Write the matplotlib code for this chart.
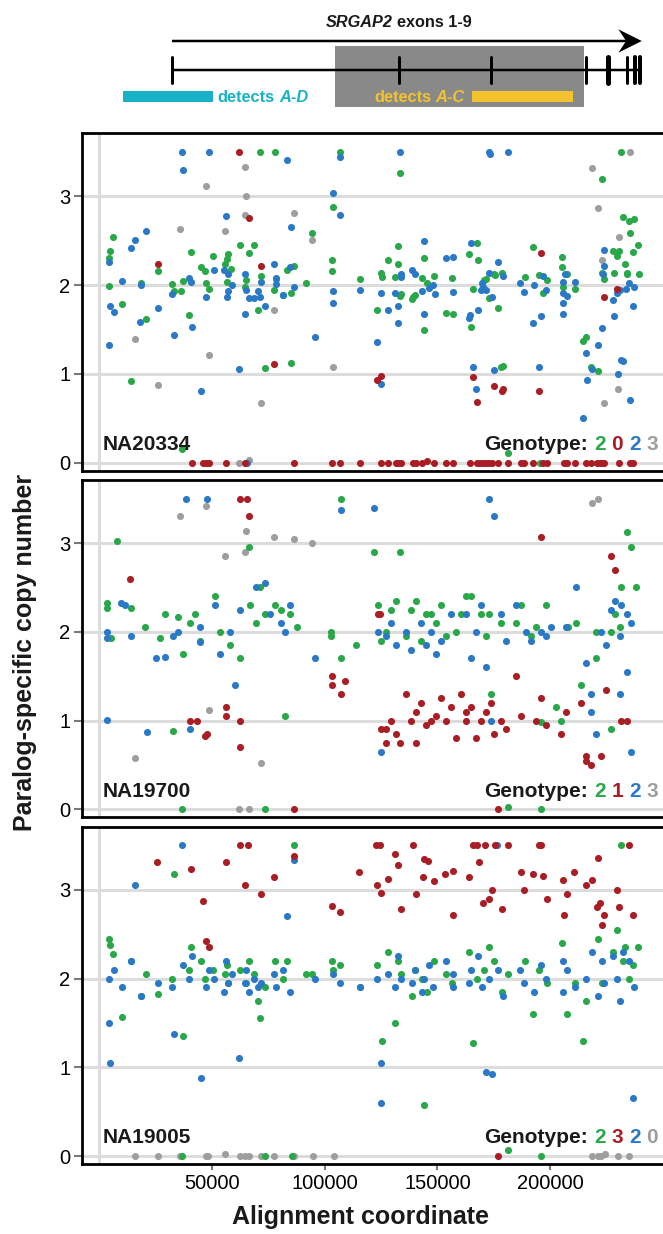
import matplotlib.pyplot as plt
from matplotlib.patches import Rectangle, Polygon
from matplotlib.transforms import ScaledTranslation

plt.rcParams['font.family'] = ['Liberation Sans', 'DejaVu Sans']

GREEN = '#29a84a'
RED = '#a81e24'
BLUE = '#2a79c6'
GRAY = '#9e9e9e'

# ---- data: (alignment coordinate in thousands, copy number) ----
na20334_green = [
    (71.4, 3.5), (78.1, 3.5), (6.2, 2.54), (94.5, 2.59), (4.7, 2.38), (4.3, 2.31), (25.9, 2.16),
    (40.7, 2.37), (62.2, 2.45), (68.8, 2.45), (66.4, 2.36), (57.1, 2.35), (50.6, 2.33), (45.0, 2.20),
    (46.8, 2.16), (56.5, 2.29), (55.8, 2.24), (58.6, 2.18), (83.1, 2.17), (86.5, 2.22), (64.9, 2.06),
    (71.7, 2.10), (78.5, 2.07), (37.1, 2.05), (4.3, 1.99), (18.5, 2.02), (32.2, 2.01), (33.3, 1.93),
    (36.1, 1.93), (47.3, 2.02), (48.7, 1.96), (56.5, 2.04), (64.8, 1.98), (77.5, 1.94), (81.4, 1.89),
    (84.9, 1.91), (91.7, 2.02), (10.1, 1.79), (70.3, 1.72), (39.7, 1.66), (20.6, 1.62), (73.5, 1.07),
    (85.2, 1.12), (14.1, 0.92), (36.6, 0.16),
    (106.9, 3.5), (133.3, 3.26), (231.5, 3.5), (223.0, 3.20), (103.7, 2.88), (232.5, 2.77),
    (235.0, 2.72), (237.4, 2.75), (235.2, 2.59), (239.0, 2.45), (167.4, 2.48), (132.7, 2.44),
    (192.4, 2.43), (227.8, 2.39), (230.5, 2.38), (229.8, 2.33), (236.9, 2.37), (143.9, 2.31),
    (164.0, 2.35), (168.0, 2.28), (128.0, 2.28), (103.4, 2.28), (132.4, 2.24), (205.3, 2.32),
    (233.4, 2.24), (205.3, 2.20), (207.4, 2.13), (103.4, 2.16), (124.9, 2.14), (125.2, 2.09),
    (131.2, 2.09), (178.7, 2.14), (174.9, 2.12), (175.4, 2.11), (115.5, 2.07), (143.2, 2.08),
    (145.4, 2.02), (148.5, 2.10), (156.6, 2.08), (189.0, 2.09), (195.1, 2.11), (198.5, 2.06),
    (205.9, 1.98), (210.8, 1.96), (223.0, 2.14), (223.9, 2.07), (228.5, 2.14), (234.3, 2.14),
    (233.9, 2.12), (239.3, 2.13), (171.6, 2.07), (170.7, 2.06), (165.7, 1.96), (196.7, 1.91),
    (133.9, 1.90), (133.6, 1.88), (139.9, 1.89), (139.2, 1.87), (138.8, 1.84), (172.8, 1.86),
    (123.2, 1.72), (176.8, 1.74), (153.7, 1.69), (156.9, 1.68), (164.8, 1.53), (144.0, 1.50),
    (214.6, 1.37), (216.1, 1.42), (178.4, 1.08), (178.9, 1.09), (218.2, 1.08), (221.3, 1.03),
    (181.2, 0.11), (195.5, 0.0),
]
na20334_blue = [
    (36.6, 3.5), (48.7, 3.5), (37.3, 3.30), (83.1, 3.41), (56.2, 2.78), (85.2, 2.65), (20.6, 2.61),
    (15.8, 2.51), (14.1, 2.42), (4.2, 2.26), (50.8, 2.17), (55.5, 2.17), (57.0, 2.13), (77.5, 2.24),
    (84.6, 2.20), (64.6, 2.12), (71.7, 2.04), (78.5, 2.08), (78.5, 2.01), (39.7, 2.08), (40.9, 2.03),
    (10.1, 2.05), (18.5, 2.00), (32.3, 1.90), (47.3, 1.87), (58.7, 2.00), (57.2, 1.93), (56.5, 1.87),
    (65.1, 1.94), (66.3, 1.85), (68.8, 1.86), (71.3, 1.87), (70.6, 1.93), (81.4, 1.89), (86.4, 1.98),
    (4.7, 1.76), (6.4, 1.70), (25.9, 1.74), (73.5, 1.77), (64.8, 1.68), (18.2, 1.59), (41.0, 1.53),
    (33.2, 1.44), (95.8, 1.42), (4.3, 1.33), (62.1, 1.05), (44.9, 0.81), (65.4, 0.0),
    (106.9, 3.44), (133.3, 3.5), (173.0, 3.5), (173.2, 3.48), (181.2, 3.5), (103.8, 3.04),
    (106.9, 2.79), (144.2, 2.50), (164.8, 2.47), (223.9, 2.40), (153.7, 2.31), (157.1, 2.32),
    (176.8, 2.26), (224.0, 2.21), (103.5, 1.93), (103.5, 1.80), (138.8, 2.17), (140.1, 2.12),
    (133.9, 2.12), (133.9, 2.09), (178.9, 2.10), (172.8, 2.14), (148.1, 2.00), (146.1, 1.97),
    (196.7, 2.10), (206.5, 2.12), (205.9, 2.04), (205.9, 1.91), (207.4, 1.88), (210.9, 2.04),
    (223.6, 2.12), (169.7, 2.02), (170.0, 1.98), (169.3, 1.94), (171.4, 1.94), (186.7, 2.02),
    (188.6, 1.92), (192.7, 2.00), (198.2, 1.94), (234.9, 2.02), (237.1, 1.98), (233.7, 1.96),
    (230.8, 1.94), (229.8, 1.91), (115.5, 1.94), (125.0, 1.91), (131.0, 1.91), (143.0, 1.93),
    (148.7, 1.90), (156.8, 1.92), (174.0, 1.87), (227.8, 1.83), (205.6, 1.80), (236.9, 1.77),
    (128.0, 1.72), (132.4, 1.76), (168.0, 1.72), (143.9, 1.68), (164.5, 1.66), (164.2, 1.63),
    (195.8, 1.65), (205.7, 1.68), (228.5, 1.65), (132.5, 1.57), (192.4, 1.57), (223.0, 1.52),
    (123.2, 1.36), (215.7, 1.23), (221.3, 1.33), (231.5, 1.16), (232.5, 1.14), (165.7, 1.08),
    (175.0, 1.04), (195.1, 1.08), (218.6, 1.05), (124.9, 0.89), (216.3, 0.93), (230.1, 1.00),
    (167.3, 0.83), (235.2, 0.71), (214.6, 0.50),
]
na20334_red = [
    (62.1, 3.5), (66.4, 2.76), (25.9, 2.24), (71.7, 2.21), (77.6, 1.11),
    (41.0, 0), (46.2, 0), (47.3, 0), (48.5, 0), (56.0, 0), (64.8, 0), (86.4, 0),
    (195.8, 2.36), (229.8, 1.96), (223.9, 1.87), (123.2, 0.93), (124.9, 0.98), (165.7, 0.96),
    (175.0, 0.86), (178.7, 0.81), (178.9, 0.83), (195.1, 0.81), (167.4, 0.68),
    (103.4, 0), (106.9, 0), (115.5, 0), (124.9, 0), (128.0, 0), (131.6, 0), (132.7, 0), (133.7, 0),
    (139.1, 0), (140.4, 0), (143.2, 0), (145.5, 0.02), (148.5, 0), (153.7, 0), (157.1, 0),
    (164.5, 0), (167.6, 0), (168.9, 0), (170.3, 0), (171.4, 0), (172.8, 0), (174.0, 0), (176.8, 0),
    (181.2, 0), (187.0, 0), (188.6, 0), (192.4, 0), (196.7, 0), (198.5, 0), (206.3, 0), (207.4, 0),
    (210.9, 0), (215.8, 0), (218.2, 0), (220.7, 0), (221.9, 0), (223.0, 0), (223.9, 0), (230.5, 0),
    (235.2, 0), (236.9, 0),
]
na20334_gray = [
    (64.6, 3.33), (47.3, 3.12), (65.1, 3.00), (64.6, 2.79), (86.3, 2.81), (35.9, 2.63), (55.8, 2.61),
    (94.5, 2.51), (77.5, 1.72), (15.8, 1.39), (48.7, 1.21), (25.9, 0.87), (71.7, 0.67), (62.1, 0.0),
    (66.3, 0.03), (235.2, 3.5), (218.6, 3.32), (221.1, 2.87), (230.5, 2.54), (223.0, 2.28),
    (103.7, 1.08), (230.0, 0.83), (223.9, 0.67),
]

na19700_green = [
    (3.5, 2.32), (3.5, 2.27), (5.3, 1.93), (7.9, 3.02), (14.2, 2.27), (20.4, 2.05), (27.1, 1.93),
    (29.3, 2.2), (32.8, 0.88), (35.1, 2.17), (37.3, 1.75), (40.4, 2.1), (42.6, 2.2), (44.8, 1.9),
    (51.5, 2.4), (53.7, 2.0), (58.2, 1.85), (62.6, 1.7), (66.6, 2.95), (67.0, 2.3), (69.3, 2.1),
    (71.5, 2.5), (73.7, 2.2), (78.1, 2.3), (80.4, 2.25), (82.6, 1.05), (84.8, 2.2), (87.9, 2.05),
    (102.6, 2.0), (102.6, 1.95), (107.0, 3.5), (107.0, 1.7), (113.7, 1.85), (121.7, 2.9),
    (123.5, 2.3), (124.8, 1.9), (127.0, 2.0), (129.2, 2.25), (131.4, 2.35), (133.6, 2.9),
    (135.9, 1.95), (138.1, 2.25), (140.3, 2.35), (142.5, 1.9), (144.8, 2.2), (147.0, 2.2),
    (149.2, 2.1), (151.4, 2.3), (153.6, 1.95), (158.1, 2.0), (160.3, 2.2), (162.5, 2.4),
    (164.7, 2.4), (169.2, 2.2), (171.4, 1.95), (172.7, 2.2), (173.6, 1.3), (178.0, 2.1),
    (184.7, 2.1), (186.9, 2.3), (191.4, 1.95), (193.6, 2.05), (195.8, 0.98), (198.0, 2.3),
    (202.4, 1.15), (204.7, 1.0), (207.8, 2.05), (211.3, 2.1), (213.6, 1.4), (220.2, 1.7),
    (220.2, 2.0), (226.9, 2.0), (226.9, 0.9), (228.6, 2.2), (230.9, 2.05), (231.3, 2.5),
    (234.0, 3.12), (235.8, 2.95), (238.0, 2.5),
    (36.8, 0), (73.6, 0), (181.5, 0.03), (196.1, 0),
]
na19700_blue = [
    (3.5, 2.0), (3.5, 1.93), (3.5, 1.01), (9.8, 2.32), (11.5, 2.3), (14.2, 1.95), (21.3, 0.87),
    (25.3, 1.7), (29.3, 1.72), (32.8, 1.95), (35.1, 2.0), (38.6, 3.5), (40.4, 0.9), (44.8, 2.05),
    (44.8, 1.88), (48.0, 3.5), (51.5, 2.3), (53.7, 1.75), (58.2, 2.0), (60.4, 1.4), (62.6, 2.25),
    (69.3, 2.5), (73.7, 2.55), (75.9, 2.2), (80.4, 2.1), (82.6, 2.0), (84.8, 2.3), (95.9, 1.7),
    (107.0, 3.37), (121.7, 3.4), (123.5, 2.0), (124.8, 0.65), (127.0, 1.95), (129.2, 2.1),
    (131.4, 1.85), (135.9, 2.0), (138.1, 1.8), (142.5, 2.1), (144.8, 1.85), (147.0, 2.0),
    (149.2, 1.75), (151.4, 1.9), (155.8, 2.2), (162.5, 2.2), (164.7, 1.7), (166.9, 2.0),
    (169.2, 2.3), (171.4, 1.6), (172.7, 3.5), (173.6, 1.0), (175.0, 3.3), (178.0, 2.2),
    (180.3, 1.9), (184.7, 2.3), (189.1, 2.0), (191.4, 1.9), (195.8, 2.0), (198.0, 1.95),
    (200.2, 2.05), (206.9, 2.05), (211.3, 2.5), (215.8, 1.65), (218.0, 1.1), (218.0, 1.3),
    (220.2, 0.85), (222.4, 2.0), (224.7, 1.85), (226.9, 2.25), (228.6, 2.35), (230.9, 1.95),
    (230.9, 1.3), (231.3, 2.3), (234.0, 2.2), (234.0, 1.55), (235.8, 2.1), (235.8, 0.65),
]
na19700_red = [
    (13.8, 2.59), (40.4, 1.0), (43.5, 1.0), (47.9, 0.85), (47.0, 0.83), (56.0, 1.15), (56.0, 1.05),
    (62.6, 3.5), (62.6, 1.0), (62.6, 0.7), (65.7, 3.5), (66.5, 3.3), (103.4, 1.5), (103.4, 1.4),
    (107.0, 1.3), (108.8, 1.45), (123.5, 2.2), (124.4, 2.2), (124.8, 0.9), (127.0, 0.9),
    (127.0, 0.75), (129.2, 1.0), (131.4, 0.85), (133.6, 0.75), (135.9, 1.3), (138.1, 1.0),
    (140.3, 0.75), (140.3, 1.1), (142.5, 1.2), (144.8, 0.95), (147.0, 1.0), (149.2, 1.05),
    (151.4, 1.25), (153.6, 1.0), (155.8, 1.15), (158.1, 0.8), (160.3, 1.3), (162.5, 1.1),
    (162.5, 1.0), (164.7, 1.15), (166.9, 0.8), (169.2, 1.0), (171.4, 1.1), (173.6, 1.2),
    (175.0, 0.85), (178.0, 1.0), (180.3, 0.9), (184.7, 1.5), (186.9, 1.05), (193.6, 1.0),
    (195.8, 1.25), (196.0, 3.07), (198.0, 0.95), (204.7, 0.85), (206.9, 1.1), (213.6, 1.2),
    (215.8, 0.6), (215.8, 0.55), (218.0, 0.5), (222.4, 0.6), (224.7, 1.35), (226.9, 2.85),
    (228.6, 2.7), (231.3, 1.0), (234.0, 1.0), (86.5, 0), (177.0, 0),
]
na19700_gray = [
    (15.8, 0.58), (35.9, 3.3), (47.3, 3.42), (48.7, 1.12), (55.8, 2.85), (62.1, 0), (64.6, 2.9),
    (65.1, 3.13), (66.3, 0), (71.7, 0.52), (77.5, 3.07), (86.3, 3.05), (94.5, 3.0),
    (218.6, 3.45), (221.1, 3.5),
]

na19005_green = [
    (4.3, 2.45), (4.7, 2.38), (6.2, 2.28), (10.1, 1.57), (14.1, 2.2), (18.5, 1.8), (20.6, 2.05),
    (25.9, 1.83), (32.3, 2.0), (33.1, 3.18), (37.1, 1.35), (39.7, 2.1), (40.7, 2.35), (45.0, 2.2),
    (46.8, 2.0), (50.6, 2.1), (55.8, 2.05), (56.5, 2.15), (57.1, 1.95), (62.2, 2.1), (64.9, 1.95),
    (66.4, 2.2), (68.8, 2.05), (70.3, 1.75), (71.4, 1.55), (73.5, 1.9), (78.1, 2.2), (81.4, 2.0),
    (83.1, 2.2), (86.3, 3.5), (91.7, 2.05), (94.5, 2.05), (103.4, 2.2), (103.7, 2.1), (106.9, 2.15),
    (115.5, 1.9), (123.2, 2.15), (125.2, 1.3), (128.0, 2.3), (131.2, 1.5), (132.7, 2.2),
    (133.9, 2.05), (138.8, 1.8), (139.9, 2.1), (143.2, 2.0), (144.0, 0.57), (145.4, 1.85),
    (148.5, 2.2), (153.7, 2.05), (156.6, 1.95), (164.0, 2.3), (165.7, 1.27), (167.4, 2.0),
    (170.7, 2.1), (172.8, 2.35), (174.9, 2.2), (178.7, 1.85), (181.2, 2.05), (189.0, 2.2),
    (192.4, 1.6), (195.1, 2.1), (198.5, 1.95), (205.3, 2.4), (207.4, 1.6), (210.8, 1.95),
    (214.6, 1.3), (216.1, 1.75), (221.3, 2.45), (223.0, 1.95), (227.8, 2.3), (229.8, 2.55),
    (231.3, 3.5), (232.5, 2.2), (233.4, 2.35), (235.0, 2.0), (236.9, 2.15), (239.0, 2.35),
    (36.6, 0), (73.6, 0), (85.4, 0), (181.5, 0.07), (195.9, 0),
]
na19005_blue = [
    (4.2, 2.0), (4.3, 1.5), (4.7, 1.05), (6.4, 2.1), (10.1, 1.9), (14.1, 2.2), (15.8, 3.05),
    (18.5, 1.8), (25.9, 1.95), (32.3, 1.9), (33.2, 1.38), (36.7, 3.5), (37.3, 2.15), (39.7, 2.0),
    (41.0, 2.25), (44.9, 0.88), (47.3, 1.9), (48.7, 2.1), (50.8, 2.0), (55.5, 1.85), (56.2, 2.2),
    (57.2, 1.95), (58.7, 2.05), (62.1, 1.1), (64.6, 1.95), (65.1, 2.1), (66.3, 1.85), (68.8, 2.0),
    (70.6, 1.9), (71.7, 1.95), (77.5, 2.05), (78.5, 1.9), (81.4, 2.1), (83.1, 2.7), (84.6, 1.85),
    (86.3, 3.34), (95.8, 2.0), (103.5, 2.05), (106.9, 1.95), (115.5, 1.9), (123.2, 2.0),
    (124.9, 0.6), (125.0, 1.05), (128.0, 2.05), (131.0, 1.9), (132.4, 2.25), (133.9, 2.0),
    (138.8, 1.95), (140.1, 2.1), (143.0, 1.85), (144.2, 2.0), (146.1, 2.15), (148.1, 1.9),
    (153.7, 2.2), (156.8, 1.9), (157.1, 2.05), (164.2, 1.95), (164.8, 2.1), (168.0, 2.25),
    (169.7, 1.9), (171.4, 0.95), (172.8, 2.0), (174.0, 0.92), (176.6, 3.5), (176.8, 2.1),
    (178.9, 1.8), (186.7, 2.1), (188.6, 1.95), (192.7, 1.85), (195.8, 2.15), (198.2, 2.0),
    (205.6, 1.85), (205.9, 2.2), (207.4, 2.1), (210.9, 1.9), (215.7, 2.0), (218.6, 2.3),
    (221.3, 1.8), (223.0, 2.2), (224.0, 1.95), (227.8, 2.25), (229.8, 2.0), (230.8, 1.75),
    (232.5, 2.3), (234.9, 2.2), (236.9, 0.65), (237.1, 1.9),
]
na19005_red = [
    (25.8, 3.31), (40.9, 3.23), (56.1, 3.31), (62.3, 3.5), (66.1, 3.5), (77.5, 3.14), (115.4, 3.2),
    (122.9, 3.5), (124.4, 3.5), (128.0, 3.12), (131.2, 3.40), (132.5, 3.28), (139.1, 3.5),
    (143.8, 3.14), (144.1, 3.35), (145.6, 3.32), (148.6, 3.1), (153.5, 3.18), (156.7, 3.21),
    (164.0, 3.14), (165.7, 3.5), (167.4, 3.5), (168.3, 3.31), (171.3, 3.5), (175.4, 3.5),
    (181.3, 3.5), (187.1, 3.2), (192.5, 3.18), (195.0, 3.5), (195.9, 3.5), (196.6, 3.16),
    (205.5, 3.11), (210.7, 3.2), (218.6, 3.11), (221.2, 3.36), (235.1, 3.5),
    (46.2, 2.87), (47.3, 2.42), (48.5, 2.35), (64.8, 3.05), (71.7, 2.95), (86.4, 3.38),
    (103.4, 2.82), (106.9, 2.75), (123.2, 3.05), (124.9, 2.96), (133.7, 2.78), (140.4, 2.95),
    (157.1, 2.72), (170.3, 2.85), (172.8, 2.9), (174.0, 3.0), (178.7, 2.78), (188.6, 3.0),
    (198.5, 2.9), (206.3, 2.72), (207.4, 2.95), (215.8, 3.05), (220.7, 2.8), (221.9, 2.85),
    (223.0, 2.6), (223.9, 2.72), (229.8, 3.0), (230.5, 2.8), (236.9, 2.72),
    (177.0, 0),
]
na19005_gray = [
    (16.0, 0), (25.9, 0), (35.9, 0), (47.5, 0), (48.4, 0), (55.9, 0.02), (62.5, 0), (64.7, 0),
    (66.3, 0), (71.7, 0), (77.5, 0), (86.3, 0), (94.8, 0), (104.2, 0), (218.6, 0), (221.4, 0),
    (222.7, 0), (224.2, 0.02), (230.2, 0), (234.9, 0),
]

samples = ['NA20334', 'NA19700', 'NA19005']
genotypes = [['2', '0', '2', '3'], ['2', '1', '2', '3'], ['2', '3', '2', '0']]
points = [
    [na20334_gray, na20334_green, na20334_blue, na20334_red],
    [na19700_gray, na19700_green, na19700_blue, na19700_red],
    [na19005_gray, na19005_green, na19005_blue, na19005_red],
]
point_colors = [GRAY, GREEN, BLUE, RED]
genotype_colors = [GREEN, RED, BLUE, GRAY]

# gene schematic, alignment coordinates
arrow_start, arrow_notch, arrow_barb, arrow_tip = 32120, 233700, 230250, 240630
gene_start, gene_end = 32250, 240600
exon_pos = [32250, 132900, 173700, 215800, 225600, 234000, 237700, 239700]
exon_lw_px = [3, 3, 3, 3, 5, 3, 4, 4]
shade_span = (104570, 215040)
ad_span = (10380, 50310)
ac_span = (165200, 210300)

XTICKS = [50000, 100000, 150000, 200000]
XLIM = (-7800, 250050)
YLIM = (-0.09, 3.71)

W, H = 663, 1234
fig = plt.figure(figsize=(W / 100, H / 100), dpi=100)


def box(left, top, right, bottom):
    return [left / W, 1 - bottom / H, (right - left) / W, (bottom - top) / H]


def text_run(ax, x, y, pieces, trans, ha='left', size=12, gap=0.278, **kw):
    r = fig.canvas.get_renderer()
    objs = [ax.text(x, y, s, color=c, style=st, transform=trans, ha='left',
                    fontsize=size, **kw) for s, c, st in pieces]
    widths = [o.get_window_extent(r).width for o in objs]
    g = gap * size * fig.dpi / 72
    total = sum(widths) + g * (len(objs) - 1)
    off = 0 if ha == 'left' else -total
    for o, w in zip(objs, widths):
        o.set_transform(trans + ScaledTranslation(off / fig.dpi, 0, fig.dpi_scale_trans))
        off += w + g


L, R = 81.7, 663
tops = [133.3, 480.0, 826.7]
PH = 337.4
for i, top in enumerate(tops):
    ax = fig.add_axes(box(L, top, R, top + PH))
    ax.set_xlim(*XLIM)
    ax.set_ylim(*YLIM)
    ax.set_yticks([0, 1, 2, 3])
    ax.set_xticks(XTICKS)
    ax.grid(axis='y', color='#dcdcdc', lw=2.2, zorder=0)
    ax.axvline(0, color='#dcdcdc', lw=2.2, zorder=0)
    for s in ['top', 'left', 'bottom']:
        ax.spines[s].set_linewidth(2.0)
        ax.spines[s].set_color('black')
    ax.spines['right'].set_visible(False)
    ax.tick_params(axis='y', length=5.8, width=1.5, color='#7a7a7a', pad=2.4, labelsize=14.5)
    ax.tick_params(axis='x', length=4.3, width=1.5, color='#7a7a7a', pad=2.5, labelsize=14.5)
    if i < 2:
        ax.tick_params(axis='x', labelbottom=False, length=0)
    for pts, col in zip(points[i], point_colors):
        ax.scatter([p[0] * 1000 for p in pts], [p[1] for p in pts], s=26, color=col,
                   linewidths=0, zorder=3, clip_on=False)
    ax.text(0.0366, 0.0613, samples[i], transform=ax.transAxes, fontsize=15,
            fontweight='bold', color='#1a1a1a', ha='left', va='baseline', zorder=5)
    pieces = [('Genotype:', '#1a1a1a', 'normal')] + \
        [(g, c, 'normal') for g, c in zip(genotypes[i], genotype_colors)]
    text_run(ax, 0.9914, 0.0613, pieces, ax.transAxes, ha='right', size=15,
             fontweight='bold', va='baseline', zorder=5)

fig.text(25 / W, 1 - 652 / H, 'Paralog-specific copy number', rotation=90, ha='center',
         va='center', fontsize=18, fontweight='bold', color='#1a1a1a')
fig.text(360 / W, 1 - 1217 / H, 'Alignment coordinate', ha='center', va='center',
         fontsize=18, fontweight='bold', color='#1a1a1a')

# gene schematic
axd = fig.add_axes(box(L, 0, R, 118))
axd.set_xlim(*XLIM)
axd.set_ylim(118, 0)
axd.axis('off')
axd.add_patch(Rectangle((shade_span[0], 46), shade_span[1] - shade_span[0], 61,
                        color='#898989', lw=0, zorder=1))
axd.plot([arrow_start, arrow_notch], [41, 41], color='black', lw=2.5 * 0.72,
         solid_capstyle='butt', zorder=2)
axd.add_patch(Polygon([(arrow_tip, 41), (arrow_barb, 29.3), (arrow_notch, 41), (arrow_barb, 52.7)],
                      closed=True, color='black', lw=0, zorder=2))
axd.plot([gene_start, gene_end], [70, 70], color='black', lw=2.5 * 0.72,
         solid_capstyle='butt', zorder=2)
for xp, lw in zip(exon_pos, exon_lw_px):
    axd.plot([xp, xp], [57, 83], color='black', lw=lw * 0.72, solid_capstyle='round', zorder=2)
axd.add_patch(Rectangle((ad_span[0], 91), ad_span[1] - ad_span[0], 11, color='#19b1c6',
                        lw=0, zorder=3))
axd.add_patch(Rectangle((ac_span[0], 91), ac_span[1] - ac_span[0], 11, color='#f2c32e',
                        lw=0, zorder=3))
text_run(axd, 100577, 26.7, [('SRGAP2', '#1a1a1a', 'italic'), ('exons 1-9', '#1a1a1a', 'normal')],
         axd.transData, ha='left', size=11.7, fontweight='bold', va='baseline')
text_run(axd, 52350, 101.7, [('detects', '#19b1c6', 'normal'), ('A-D', '#19b1c6', 'italic')],
         axd.transData, ha='left', size=11.8, fontweight='bold', va='baseline', zorder=4)
text_run(axd, 162240, 101.7, [('detects', '#f2c32e', 'normal'), ('A-C', '#f2c32e', 'italic')],
         axd.transData, ha='right', size=11.8, fontweight='bold', va='baseline', zorder=4)

fig.savefig('out.png', dpi=100)
